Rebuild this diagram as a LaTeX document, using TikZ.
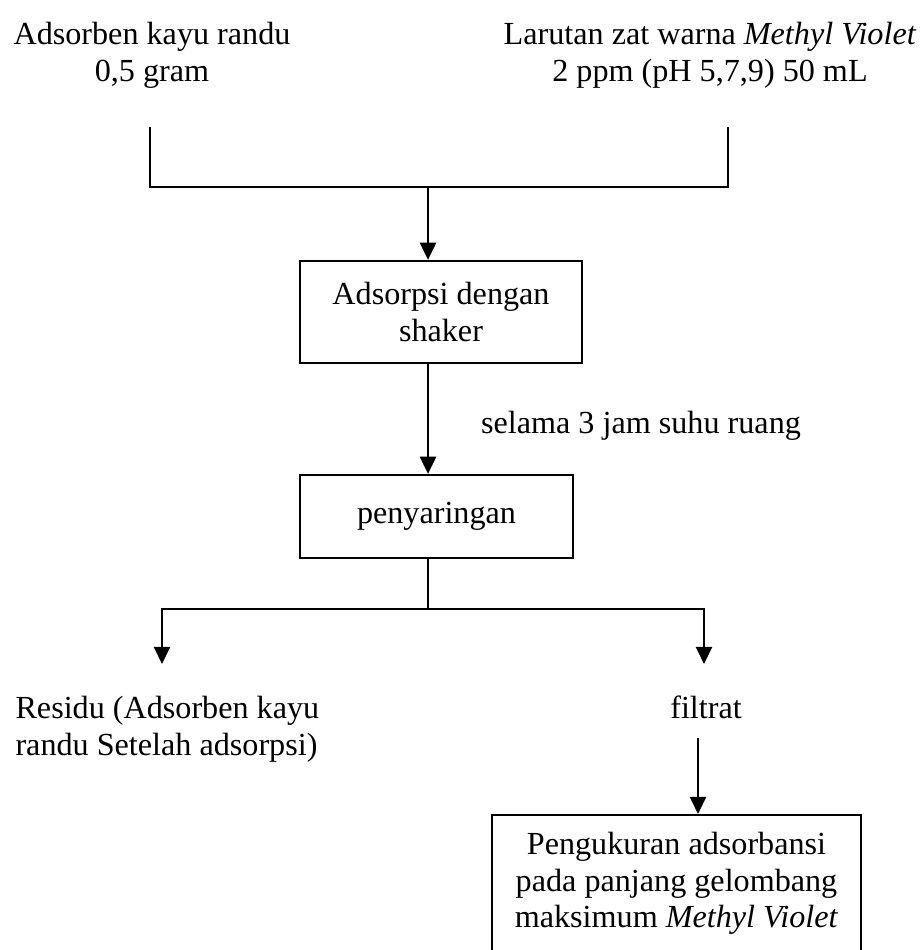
\documentclass[tikz,border=0pt]{standalone}
\usepackage{fontspec}
\setmainfont{Liberation Serif}
\usetikzlibrary{arrows.meta}
\begin{document}
\begin{tikzpicture}[x=0.3731pt,y=-0.3731pt,
  line/.style={line width=0.85pt},
  arr/.style={line, -{Triangle[length=6.4pt,width=6pt]}},
  txt/.style={font=\fontsize{12}{13.8}\selectfont, align=center, inner sep=0pt},
  procbox/.style={draw, line width=0.8pt, font=\fontsize{12}{13.8}\selectfont, align=center, inner sep=0pt}]
\useasboundingbox (0,0) rectangle (920,950);
\clip (0,0) rectangle (920,950);

% inputs
\node[txt] (adsorben) at (152,55) {Adsorben kayu randu\\0,5 gram};
\node[txt] (larutan) at (710,55) {Larutan zat warna \textit{Methyl Violet}\\2 ppm (pH 5,7,9) 50 mL};

% joining bracket
\coordinate (lt) at (150,127);
\coordinate (lb) at (150,187);
\coordinate (rt) at (728,127);
\coordinate (rb) at (728,187);
\coordinate (jn) at (428,187);
\draw[line] (lt) -- (lb) -- (rb) -- (rt);

% process steps
\node[procbox, minimum width=105.2pt, minimum height=38.1pt] (shaker) at (441,312) {Adsorpsi dengan\\shaker};
\node[procbox, minimum width=101.9pt, minimum height=31pt] (saring) at (436.5,516.5) {penyaringan};

\draw[arr] (jn) -- (jn |- shaker.north);
\draw[arr] (shaker.south -| jn) -- (jn |- saring.north);
\node[txt] (kondisi) at (641,426) {selama 3 jam suhu ruang};

% split into residue and filtrate
\coordinate (split) at (428,609);
\coordinate (sl) at (162,609);
\coordinate (sr) at (704,609);
\coordinate (slend) at (162,664);
\coordinate (srend) at (704,664);
\draw[line] (saring.south -| split) -- (split);
\draw[arr] (split) -- (sl) -- (slend);
\draw[arr] (split) -- (sr) -- (srend);

\node[txt, align=left, anchor=west] (residu) at (15,729) {Residu (Adsorben kayu\\randu Setelah adsorpsi)};
\node[txt] (filtrat) at (706,707) {filtrat};

% measurement
\node[procbox, anchor=north, minimum width=137.7pt] (ukur) at (676.5,814)
  {\parbox[c][56pt][t]{135pt}{\centering\vspace*{6.2pt}Pengukuran adsorbansi\\pada panjang gelombang\\maksimum \textit{Methyl Violet}}};
\coordinate (fa) at (698,738);
\draw[arr] (fa) -- (fa |- ukur.north);
\end{tikzpicture}
\end{document}
